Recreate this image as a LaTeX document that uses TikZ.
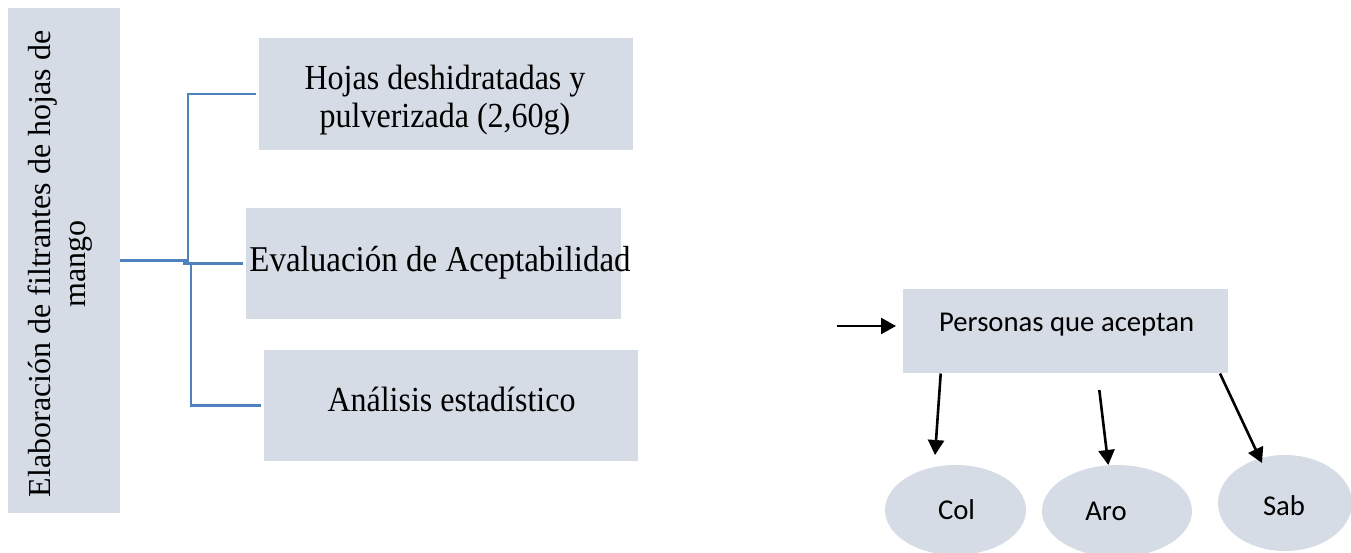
\documentclass[tikz,border=0pt]{standalone}
\usepackage{fontspec}
\setmainfont{Liberation Serif}
\newfontfamily\calib{Carlito}
\usetikzlibrary{arrows.meta,shapes.geometric}
\definecolor{boxfill}{HTML}{D6DCE5}
\definecolor{linkblue}{HTML}{4F81BD}
\begin{document}
\begin{tikzpicture}[x=1pt,y=-1pt,
  boxnode/.style={fill=boxfill,draw=none,inner sep=0pt},
  ovalnode/.style={ellipse,fill=boxfill,draw=none,inner sep=0pt},
  serifbig/.style={font=\fontsize{32}{34.5}\selectfont},
  boxtext/.style={serifbig,yscale=1.1},
  sanstext/.style={font=\calib\fontsize{28.7}{32}\selectfont},
  link/.style={draw=linkblue,line width=2.2pt},
  arr/.style={draw=black,line width=2.6pt,-{Triangle[length=15pt,width=16pt]}}]
\useasboundingbox (0,0) rectangle (1351,552);
\clip (0,0) rectangle (1351,552);
% left part
\node[boxnode,minimum width=112,minimum height=505] (main) at (64,260.5) {};
\node[serifbig,rotate=90,align=center] (maint) at (60,264) {Elaboración de filtrantes de hojas de\\mango};
\node[boxnode,minimum width=374,minimum height=112] (b1) at (446,94) {};
\node[boxtext,align=center] (b1t) at (445,100) {Hojas deshidratadas y\\pulverizada (2,60g)};
\node[boxnode,minimum width=375,minimum height=111] (b2) at (433.5,263.5) {};
\node[boxtext,font=\fontsize{33}{36}\selectfont,anchor=base] (b2t) at (440,271.5) {Evaluación de Aceptabilidad};
\node[boxnode,minimum width=374,minimum height=111] (b3) at (451,405.5) {};
\node[boxtext,anchor=base] (b3t) at (451.5,411.5) {Análisis estadístico};
\coordinate (j1) at (188,260.5);
\coordinate (j2) at (183,263.5);
\coordinate (j3) at (191,263.5);
\draw[link] (main.east) -- (j1) |- ([xshift=-3pt]b1.west);
\draw[link] (j2) -- ([xshift=-3pt]b2.west);
\draw[link] (j3) |- ([xshift=-3pt]b3.west);
% right part
\node[boxnode,minimum width=325,minimum height=84.5] (pers) at (1065,331.2) {};
\node[sanstext,anchor=base] (perst) at (1066.7,331) {Personas que aceptan};
\node[ovalnode,minimum width=141,minimum height=90] (col) at (955.5,510) {};
\node[sanstext,anchor=base] (colt) at (956.5,519) {Col};
\node[ovalnode,minimum width=150,minimum height=92] (aro) at (1117,511) {};
\node[sanstext,anchor=base] (arot) at (1106,520) {Aro};
\node[ovalnode,minimum width=134,minimum height=96] (sab) at (1285,503) {};
\node[sanstext,anchor=base] (sabt) at (1284,515.5) {Sab};
\coordinate (in0) at (837,326);
\coordinate (in1) at (896,326);
\draw[arr] (in0) -- (in1);
\coordinate (c0) at (940.7,373.5);
\coordinate (c1) at (935,455);
\draw[arr] (c0) -- (c1);
\coordinate (a0) at (1099.3,390);
\coordinate (a1) at (1108.3,465);
\draw[arr] (a0) -- (a1);
\coordinate (s0) at (1220,373.5);
\coordinate (s1) at (1262,463);
\draw[arr] (s0) -- (s1);
\end{tikzpicture}
\end{document}
